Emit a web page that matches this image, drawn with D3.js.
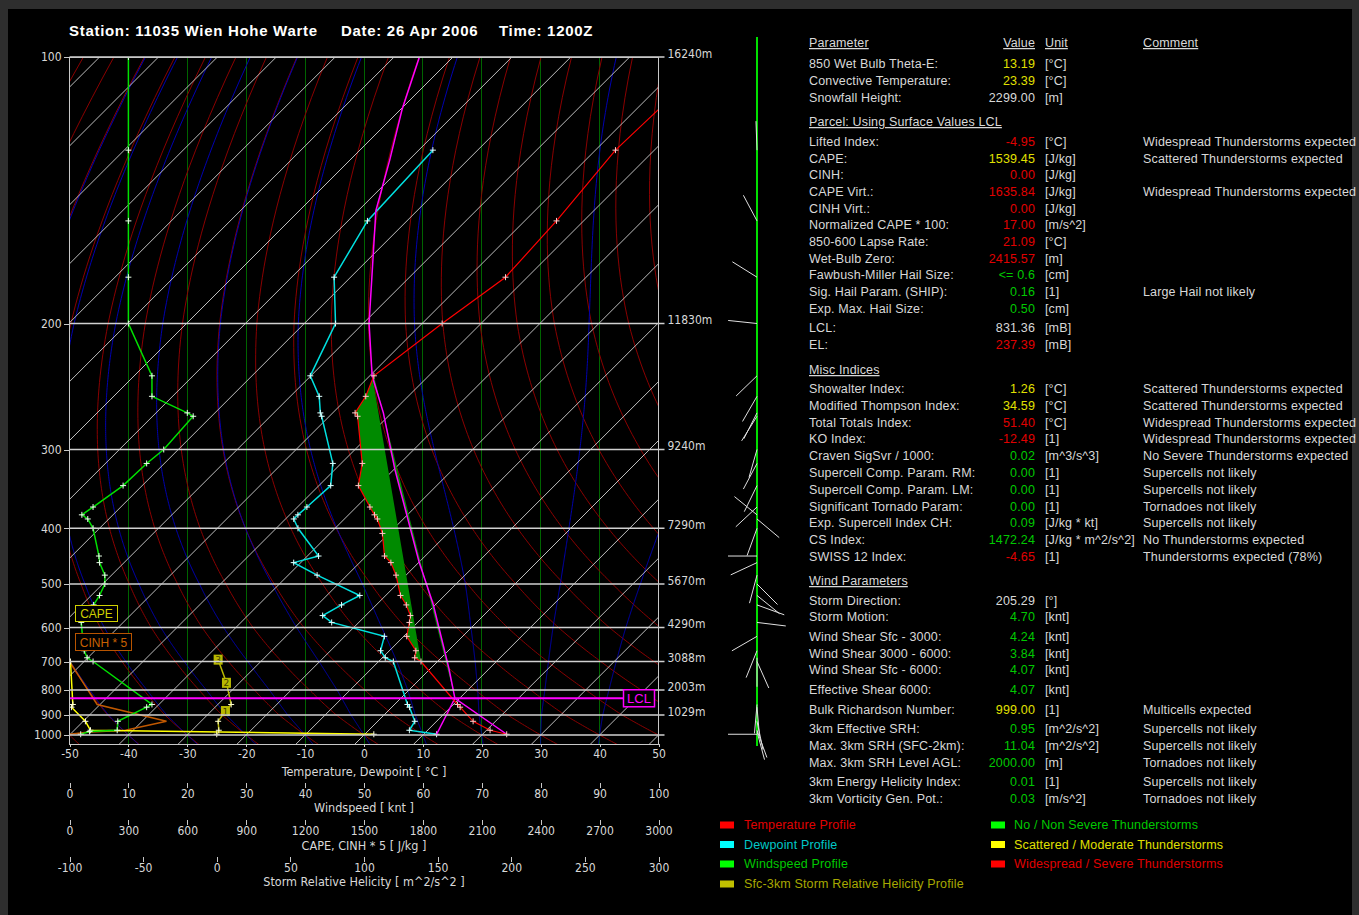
<!DOCTYPE html>
<html>
<head>
<meta charset="utf-8">
<script src="https://cdn.jsdelivr.net/npm/d3@7"></script>
<style>
  body { margin: 0; background: #2e2e2e; }
  svg { display: block; }
  .ax text { font-family: "Liberation Sans Narrow", "Arial Narrow", "DejaVu Sans Condensed", sans-serif; font-stretch: condensed; font-size: 12px; fill: #d8d8d8; }
  .ax line, .ax path { stroke: #c8c8c8; shape-rendering: crispEdges; }
  .tbl { font-family: "Liberation Sans", Arial, sans-serif; font-size: 12.5px; letter-spacing: 0.15px; }
  .crisp { shape-rendering: crispEdges; }
</style>
</head>
<body>
<svg id="chart" width="1359" height="915"></svg>
<script>
// ---------------- data ----------------
const pressureLevels = [100, 200, 300, 400, 500, 600, 700, 800, 900, 1000];
const levelHeights = ["16240m", "11830m", "9240m", "7290m", "5670m", "4290m", "3088m", "2003m", "1029m", ""];

// temperature profile (hPa, degC)
const tempP = [100, 125, 150, 175, 200, 235, 251, 265, 268, 315, 341, 369, 380, 386, 408, 446, 458, 482, 524, 545, 570, 587, 624, 666, 688, 700, 856, 867, 930, 975, 996];
const tempT = [-55.7, -56.6, -54.6, -53.7, -56.6, -59.3, -57.2, -56.2, -55.2, -46.4, -43.3, -37.7, -35.6, -34.4, -31.1, -26.9, -24.7, -21.7, -17.5, -14.9, -12.4, -11.4, -9.5, -5.5, -4.5, -2.8, 10.7, 11.6, 16.2, 20.6, 24.1];

// dewpoint profile
const dewP = [125, 150, 175, 200, 235, 251, 265, 268, 315, 341, 369, 380, 386, 400, 446, 458, 482, 524, 545, 570, 587, 624, 666, 688, 700, 856, 867, 930, 975, 996];
const dewT = [-87.6, -86.7, -82.8, -74.7, -70.1, -65.1, -62.1, -61.3, -51.4, -48.0, -48.4, -48.6, -48.6, -46.3, -38.1, -41.2, -35.1, -24.4, -25.9, -27.3, -24.6, -13.3, -11.5, -9.5, -7.5, 2.2, 3.0, 6.3, 6.9, 12.2];

// surface parcel path
const parcelP = [996, 831.36, 724, 544, 457, 322, 265, 235, 200, 146, 128, 113, 100];
const parcelT = [24.1, 9.2, 3.2, -10.4, -20.0, -39.8, -51.4, -59.6, -69.0, -87.0, -93.3, -99.8, -105.7];
const mixP = [996, 831.36];
const mixT = [12.2, 9.2];
const lclP = 831.36, elP = 237.39;

// wind profile (speed in kt, direction in degrees; no stick drawn at 100 hPa)
const windP = [100, 125, 150, 175, 200, 235, 251, 265, 268, 300, 315, 341, 369, 380, 386, 400, 446, 458, 482, 500, 524, 545, 587, 624, 666, 688, 700, 856, 867, 930, 975, 982, 996];
const windKt = [10, 10, 10, 10, 10, 14, 14, 20, 21, 16, 13.1, 9.1, 4, 2.1, 3.1, 4, 5, 5.1, 6, 6, 5.1, 4.1, 2, 2.2, 2.5, 3, 4, 14, 13.1, 8.2, 8.1, 3.4, 1.9];
const windDir = [null, 358, 332, 302, 276, 226, 210, 207, 212, 196, 208, 206, 227, 309, 130, 200, 270, 245, 195, 135, 129, 110, 97, 240, 202, 180, 156, 185, 175, 168, 160, 165, 270];

// CAPE and CINH*5 per lifted level
const capeP = [700, 856, 867, 930, 975, 996];
const capeVal = [5, 17, 10, 81, 107, 1550];
const cinhP = [700, 856, 930, 975, 985, 996];
const cinh5Val = [0, 141, 494, 285, 90, 0];

// Sfc-3km storm relative helicity
const srhP = [996, 975, 930, 883, 856, 773, 694];
const srhVal = [0, 1.4, 0.95, 5.9, 9.8, 6.6, 0.95];
const srhMark = ["", "", "", "1", "", "2", "3"];

// parameter table
const paramLabels = ["850 Wet Bulb Theta-E:", "Convective Temperature:", "Snowfall Height:",
  "Parcel: Using Surface Values LCL",
  "Lifted Index:", "CAPE:", "CINH:", "CAPE Virt.:", "CINH Virt.:", "Normalized CAPE * 100:", "850-600 Lapse Rate:", "Wet-Bulb Zero:", "Fawbush-Miller Hail Size:", "Sig. Hail Param. (SHIP):", "Exp. Max. Hail Size:", "LCL:", "EL:",
  "Misc Indices",
  "Showalter Index:", "Modified Thompson Index:", "Total Totals Index:", "KO Index:", "Craven SigSvr / 1000:", "Supercell Comp. Param. RM:", "Supercell Comp. Param. LM:", "Significant Tornado Param:", "Exp. Supercell Index CH:", "CS Index:", "SWISS 12 Index:",
  "Wind Parameters",
  "Storm Direction:", "Storm Motion:", "Wind Shear Sfc - 3000:", "Wind Shear 3000 - 6000:", "Wind Shear Sfc - 6000:", "Effective Shear 6000:", "Bulk Richardson Number:", "3km Effective SRH:", "Max. 3km SRH (SFC-2km):", "Max. 3km SRH Level AGL:", "3km Energy Helicity Index:", "3km Vorticity Gen. Pot.:"];
const paramValues = ["13.19", "23.39", "2299.00", "",
  "-4.95", "1539.45", "0.00", "1635.84", "0.00", "17.00", "21.09", "2415.57", "<= 0.6", "0.16", "0.50", "831.36", "237.39", "",
  "1.26", "34.59", "51.40", "-12.49", "0.02", "0.00", "0.00", "0.00", "0.09", "1472.24", "-4.65", "",
  "205.29", "4.70", "4.24", "3.84", "4.07", "4.07", "999.00", "0.95", "11.04", "2000.00", "0.01", "0.03"];
const paramUnits = ["[°C]", "[°C]", "[m]", "",
  "[°C]", "[J/kg]", "[J/kg]", "[J/kg]", "[J/kg]", "[m/s^2]", "[°C]", "[m]", "[cm]", "[1]", "[cm]", "[mB]", "[mB]", "",
  "[°C]", "[°C]", "[°C]", "[1]", "[m^3/s^3]", "[1]", "[1]", "[1]", "[J/kg * kt]", "[J/kg * m^2/s^2]", "[1]", "",
  "[°]", "[knt]", "[knt]", "[knt]", "[knt]", "[knt]", "[1]", "[m^2/s^2]", "[m^2/s^2]", "[m]", "[1]", "[m/s^2]"];
const paramComments = ["", "", "", "",
  "Widespread Thunderstorms expected", "Scattered Thunderstorms expected", "", "Widespread Thunderstorms expected", "", "", "", "", "", "Large Hail not likely", "", "", "", "",
  "Scattered Thunderstorms expected", "Scattered Thunderstorms expected", "Widespread Thunderstorms expected", "Widespread Thunderstorms expected", "No Severe Thunderstorms expected", "Supercells not likely", "Supercells not likely", "Tornadoes not likely", "Supercells not likely", "No Thunderstorms expected", "Thunderstorms expected (78%)", "",
  "", "", "", "", "", "", "Multicells expected", "Supercells not likely", "Supercells not likely", "Tornadoes not likely", "Supercells not likely", "Tornadoes not likely"];
// n = neutral, g = no/non severe, y = scattered, r = widespread, h = section header
const paramRating = ["y", "y", "n", "h",
  "r", "y", "r", "r", "r", "r", "r", "r", "g", "g", "g", "n", "r", "h",
  "y", "y", "r", "r", "g", "g", "g", "g", "g", "g", "r", "h",
  "n", "g", "g", "g", "g", "g", "y", "g", "g", "g", "g", "g"];

const legendLeft = ["Temperature Profile", "Dewpoint Profile", "Windspeed Profile", "Sfc-3km Storm Relative Helicity Profile"];
const legendRight = ["No / Non Severe Thunderstorms", "Scattered / Moderate Thunderstorms", "Widespread / Severe Thunderstorms"];

// ---------------- layout ----------------
const svg = d3.select("#chart");
const plot = { left: 69.5, right: 658.5, top: 57, bottom: 744 };
const levelPx = [57, 323.5, 449.5, 528.3, 584, 627.5, 661.5, 690, 715, 735];
const rowY = [64, 81, 98, 122, 142, 159, 175, 192, 209, 225, 242, 259, 275, 292, 309, 328, 345, 370,
  389, 406, 423, 439, 456, 473, 490, 507, 523, 540, 557, 581, 601, 617, 637, 654, 670, 690, 710, 729, 746, 763, 782, 799];

svg.append("rect").attr("x", 8).attr("y", 9).attr("width", 1344).attr("height", 906).attr("fill", "#000");

const y = d3.scalePow().exponent(-0.36).domain(pressureLevels).range(levelPx);
const xT = d3.scaleLinear().domain([-50, 50]).range([plot.left, plot.right]);
const xW = d3.scaleLinear().domain([0, 100]).range([plot.left, plot.right]);
const xC = d3.scaleLinear().domain([0, 3000]).range([plot.left, plot.right]);
const xS = d3.scaleLinear().domain([-100, 300]).range([plot.left, plot.right]);
const y1000 = y(1000);
const skewX = (t, p) => xT(t) + (y1000 - y(p));
const pBottom = y.invert(plot.bottom);

svg.append("clipPath").attr("id", "clip").append("rect")
  .attr("x", plot.left).attr("y", plot.top).attr("width", plot.right - plot.left).attr("height", plot.bottom - plot.top);
const g = svg.append("g").attr("clip-path", "url(#clip)");

const line = d3.line();

// vertical grid
g.selectAll(".vg").data(d3.range(-40, 41, 10)).join("line").attr("class", "crisp")
  .attr("x1", d => xT(d)).attr("x2", d => xT(d)).attr("y1", plot.top).attr("y2", plot.bottom)
  .attr("stroke", "#006400").attr("stroke-width", 1);

// dry adiabats
const pSteps = d3.range(100, 1061, 5);
g.selectAll(".dry").data(d3.range(-60, 161, 10)).join("path")
  .attr("fill", "none").attr("stroke", "#8a0000").attr("stroke-width", 1)
  .attr("d", th => line(pSteps.map(p => [skewX((th + 273.15) * Math.pow(p / 1000, 0.2857) - 273.15, p), y(p)])));

// moist (pseudo) adiabats
function satMix(tc, p) { const es = 6.112 * Math.exp(17.67 * tc / (tc + 243.5)); return 0.622 * es / (p - es); }
function dTdp(tk, p) {
  const rs = satMix(tk - 273.15, p);
  const Rd = 287.04, Lv = 2.501e6, cp = 1005.7;
  return (1 / p) * (Rd * tk + Lv * rs) / (cp + (Lv * Lv * rs * 0.622) / (Rd * tk * tk));
}
function moist(tw) {
  const up = [], down = [];
  let t = tw + 273.15;
  for (let p = 1000; p >= 100; p -= 2) {
    up.push([p, t]);
    const k1 = dTdp(t, p), k2 = dTdp(t - k1, p - 2);
    t -= (k1 + k2);
  }
  t = tw + 273.15;
  for (let p = 1000; p <= 1060; p += 2) {
    down.push([p, t]);
    const k1 = dTdp(t, p), k2 = dTdp(t + 2 * k1, p + 2);
    t += (k1 + k2);
  }
  return down.reverse().concat(up);
}
g.selectAll(".moist").data(d3.range(-40, 41, 10)).join("path")
  .attr("fill", "none").attr("stroke", "#0000b0").attr("stroke-width", 1)
  .attr("d", tw => line(moist(tw).map(([p, tk]) => [skewX(tk - 273.15, p), y(p)])));

// isotherms
g.selectAll(".iso").data(d3.range(-180, 51, 10)).join("line")
  .attr("x1", t => skewX(t, pBottom)).attr("y1", plot.bottom)
  .attr("x2", t => skewX(t, 100)).attr("y2", plot.top)
  .attr("stroke", "#bdbdbd").attr("stroke-width", 1);

// pressure lines
svg.selectAll(".pl").data(pressureLevels).join("line")
  .attr("x1", plot.left).attr("x2", plot.right + 6).attr("y1", d => y(d)).attr("y2", d => y(d))
  .attr("stroke", "#d0d0d0").attr("stroke-width", 1.5);

// CAPE area
const parcelPts = parcelP.map((p, i) => [p, parcelT[i]]);
const tempPts = tempP.map((p, i) => [p, tempT[i]]);
const capeTop = parcelPts.filter(d => d[0] <= lclP && d[0] >= 235).map(d => [skewX(d[1], d[0]), y(d[0])]);
const envSide = tempPts.filter(d => d[0] <= lclP && d[0] >= 235).map(d => [skewX(d[1], d[0]), y(d[0])]).reverse();
g.append("path").attr("d", line(capeTop.concat(envSide)) + "Z").attr("fill", "#008a00");

// plus markers
function plus(sel, pts, color) {
  sel.append("g").selectAll("path").data(pts).join("path")
    .attr("d", d => `M${d[0] - 3},${d[1]}h6M${d[0]},${d[1] - 3}v6`)
    .attr("stroke", color).attr("stroke-width", 1);
}

// CINH*5, CAPE, SRH profiles
const cinhPts = cinhP.map((p, i) => [xC(cinh5Val[i]), y(p)]);
g.append("path").attr("d", line(cinhPts)).attr("fill", "none").attr("stroke", "#c05800").attr("stroke-width", 1.5);
const capePts = capeP.map((p, i) => [xC(capeVal[i]), y(p)]);
g.append("path").attr("d", line(capePts)).attr("fill", "none").attr("stroke", "#ffff00").attr("stroke-width", 1.5);
plus(g, capePts, "#ffffe0");
const srhPts = srhP.map((p, i) => [xS(srhVal[i]), y(p)]);
g.append("path").attr("d", line(srhPts)).attr("fill", "none").attr("stroke", "#b8b800").attr("stroke-width", 1.5);
plus(g, srhPts.filter((d, i) => !srhMark[i]), "#ffffd0");
const srhLab = g.append("g").selectAll("g").data(srhPts.map((d, i) => [d, srhMark[i]]).filter(d => d[1])).join("g")
  .attr("transform", d => `translate(${d[0][0]},${d[0][1]})`);
srhLab.append("rect").attr("x", -4.5).attr("y", -5).attr("width", 9).attr("height", 10).attr("fill", "#b8b800");
srhLab.append("text").attr("text-anchor", "middle").attr("y", 3.5).attr("font-size", 9)
  .attr("font-family", "DejaVu Sans, sans-serif").attr("fill", "#404000").text(d => d[1]);

// wind speed profile
const windPts = windP.map((p, i) => [xW(windKt[i]), y(p)]);
g.append("path").attr("d", line(windPts)).attr("fill", "none").attr("stroke", "#00e000").attr("stroke-width", 1.5);
plus(g, windPts, "#e8ffe8");

// dewpoint
const dewPts = dewP.map((p, i) => [skewX(dewT[i], p), y(p)]);
g.append("path").attr("d", line(dewPts)).attr("fill", "none").attr("stroke", "#00e0e0").attr("stroke-width", 1.5);
plus(g, dewPts, "#e0ffff");

// parcel
g.append("path").attr("d", line(parcelPts.map(d => [skewX(d[1], d[0]), y(d[0])])))
  .attr("fill", "none").attr("stroke", "#ff00ff").attr("stroke-width", 1.5);
g.append("path").attr("d", line(mixP.map((p, i) => [skewX(mixT[i], p), y(p)])))
  .attr("fill", "none").attr("stroke", "#ff00ff").attr("stroke-width", 1.5);

// temperature
const tempPx = tempPts.map(d => [skewX(d[1], d[0]), y(d[0])]);
g.append("path").attr("d", line(tempPx)).attr("fill", "none").attr("stroke", "#ff0000").attr("stroke-width", 1.2);
plus(g, tempPx, "#ffc8c8");

// LCL line and label
svg.append("line").attr("x1", plot.left).attr("x2", 623).attr("y1", y(lclP)).attr("y2", y(lclP))
  .attr("stroke", "#ff00ff").attr("stroke-width", 2);
svg.append("rect").attr("x", 623.5).attr("y", y(lclP) - 8.5).attr("width", 31).attr("height", 17)
  .attr("fill", "#000").attr("stroke", "#ff00ff").attr("stroke-width", 1.5);
svg.append("text").attr("x", 639).attr("y", y(lclP) + 5).attr("text-anchor", "middle")
  .attr("font-family", "Liberation Sans, Arial, sans-serif").attr("font-size", 13).attr("fill", "#ff00ff").text("LCL");

// CAPE / CINH labels
svg.append("rect").attr("x", 75.5).attr("y", 605.5).attr("width", 42).attr("height", 16).attr("fill", "#000").attr("stroke", "#d0d000");
svg.append("text").attr("x", 96.5).attr("y", 618).attr("text-anchor", "middle").attr("font-family", "Liberation Sans, Arial, sans-serif")
  .attr("font-size", 12).attr("fill", "#d0d000").text("CAPE");
svg.append("rect").attr("x", 75.5).attr("y", 633.5).attr("width", 56).attr("height", 17).attr("fill", "#000").attr("stroke", "#b85400");
svg.append("text").attr("x", 103.5).attr("y", 646.5).attr("text-anchor", "middle").attr("font-family", "Liberation Sans, Arial, sans-serif")
  .attr("font-size", 12).attr("fill", "#c86000").text("CINH * 5");

// frame
svg.append("rect").attr("class", "crisp").attr("x", plot.left).attr("y", plot.top).attr("width", plot.right - plot.left).attr("height", plot.bottom - plot.top)
  .attr("fill", "none").attr("stroke", "#c8c8c8").attr("stroke-width", 1);

// pressure axis (left) and height labels (right)
const leftAx = svg.append("g").attr("class", "ax").attr("transform", `translate(${plot.left},0)`)
  .call(d3.axisLeft(y).tickValues(pressureLevels).tickSize(6).tickFormat(d => String(d)));
leftAx.select(".domain").remove();
leftAx.selectAll("text").attr("x", -8);
svg.append("g").attr("class", "ax").selectAll("text").data(pressureLevels).join("text")
  .attr("x", plot.right + 9).attr("y", d => y(d) + 0.5).text((d, i) => levelHeights[i]);

// bottom axes
function bottomAxis(scale, ticks, yPos, title, titleY, first) {
  const a = svg.append("g").attr("class", "ax").attr("transform", `translate(0,${yPos})`)
    .call(d3.axisBottom(scale).tickValues(ticks).tickSize(first ? 3 : 5).tickFormat(d => String(d)));
  a.select(".domain").remove();
  a.selectAll("text").attr("y", first ? 5 : 6);
  svg.append("text").attr("x", (plot.left + plot.right) / 2).attr("y", titleY)
    .attr("text-anchor", "middle").attr("font-family", "Liberation Sans Narrow, Arial Narrow, DejaVu Sans Condensed, sans-serif")
    .attr("font-stretch", "condensed").attr("font-size", 12.5).attr("fill", "#d8d8d8").text(title);
}
bottomAxis(xT, d3.range(-50, 51, 10), plot.bottom, "Temperature, Dewpoint [ °C ]", 776, true);
bottomAxis(xW, d3.range(0, 101, 10), 783, "Windspeed [ knt ]", 812, false);
bottomAxis(xC, d3.range(0, 3001, 300), 820, "CAPE, CINH * 5 [ J/kg ]", 850, false);
bottomAxis(xS, d3.range(-100, 301, 50), 857, "Storm Relative Helicity [ m^2/s^2 ]", 886, false);

// title
const titleParts = ["Station: 11035 Wien Hohe Warte", "Date: 26 Apr 2006", "Time: 1200Z"];
svg.append("g").selectAll("text").data(titleParts).join("text")
  .attr("x", (d, i) => [69, 341, 499][i]).attr("y", 36)
  .attr("font-family", "Liberation Sans, Arial, sans-serif").attr("font-weight", "bold").attr("font-size", 15)
  .attr("letter-spacing", 0.7).attr("fill", "#fff").text(d => d);

// wind sticks
const staffX = 757;
svg.append("line").attr("x1", staffX).attr("x2", staffX).attr("y1", 37).attr("y2", plot.bottom + 2)
  .attr("stroke", "#00e000").attr("stroke-width", 2);
svg.append("g").selectAll("line").data(windP.map((p, i) => [p, windDir[i]]).filter(d => d[1] !== null)).join("line")
  .attr("x1", staffX).attr("y1", d => y(d[0]))
  .attr("x2", d => staffX + 29 * Math.sin(d[1] * Math.PI / 180))
  .attr("y2", d => y(d[0]) - 29 * Math.cos(d[1] * Math.PI / 180))
  .attr("stroke", "#e0e0e0").attr("stroke-width", 1);

// parameter table
const ratingColor = d3.scaleOrdinal().domain(["n", "g", "y", "r", "h"]).range(["#d8d8d8", "#00c800", "#e0e000", "#e00000", "#d8d8d8"]);
const tbl = svg.append("g").attr("class", "tbl");
const hdr = [["Parameter", 809, "start"], ["Value", 1035, "end"], ["Unit", 1045, "start"], ["Comment", 1143, "start"]];
tbl.selectAll(".hd").data(hdr).join("text")
  .attr("x", d => d[1]).attr("y", 47).attr("text-anchor", d => d[2])
  .attr("fill", "#d8d8d8").attr("text-decoration", "underline").text(d => d[0]);
const rows = tbl.selectAll(".row").data(paramLabels.map((l, i) => i)).join("g")
  .attr("transform", i => `translate(0,${rowY[i] + 4})`);
rows.append("text").attr("x", 809).attr("fill", "#d8d8d8")
  .attr("text-decoration", i => paramRating[i] === "h" ? "underline" : null).text(i => paramLabels[i]);
rows.append("text").attr("x", 1035).attr("text-anchor", "end").attr("fill", i => ratingColor(paramRating[i])).text(i => paramValues[i]);
rows.append("text").attr("x", 1045).attr("fill", "#d8d8d8").text(i => paramUnits[i]);
rows.append("text").attr("x", 1143).attr("fill", "#d8d8d8").text(i => paramComments[i]);

// legends
const legLeftBox = ["#ff0000", "#00ffff", "#00ff00", "#c0c000"];
const legLeftText = ["#e00000", "#00c8c8", "#00c800", "#a8a800"];
const legRightBox = ["#00ff00", "#ffff00", "#ff0000"];
const legRightText = ["#00c800", "#e0e000", "#e00000"];
const legRowY = [825, 844.5, 864, 884];
const lg1 = tbl.selectAll(".l1").data(legendLeft).join("g").attr("transform", (d, i) => `translate(720,${legRowY[i]})`);
lg1.append("rect").attr("x", 0).attr("y", -3.5).attr("width", 14).attr("height", 7).attr("fill", (d, i) => legLeftBox[i]);
lg1.append("text").attr("x", 24).attr("y", 4).attr("fill", (d, i) => legLeftText[i]).text(d => d);
const lg2 = tbl.selectAll(".l2").data(legendRight).join("g").attr("transform", (d, i) => `translate(991,${legRowY[i]})`);
lg2.append("rect").attr("x", 0).attr("y", -3.5).attr("width", 14).attr("height", 7).attr("fill", (d, i) => legRightBox[i]);
lg2.append("text").attr("x", 23).attr("y", 4).attr("fill", (d, i) => legRightText[i]).text(d => d);
</script>
</body>
</html>
